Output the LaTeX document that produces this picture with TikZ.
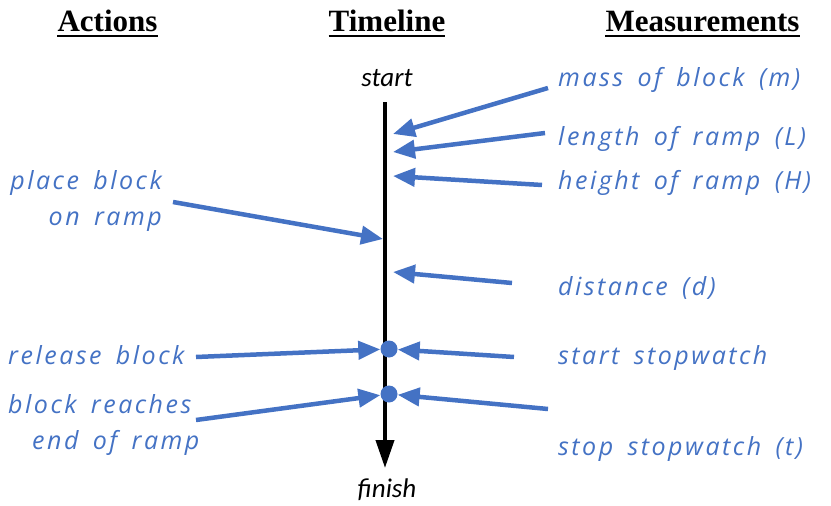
\documentclass[tikz,border=0pt]{standalone}
\usepackage{fontspec}
\usetikzlibrary{arrows.meta}
\setmainfont{Liberation Serif}
\newfontfamily\handfont[LetterSpace=10,WordSpace=1.6]{Open Sans}
\newfontfamily\tickfont{Carlito}
\definecolor{accent}{HTML}{4472C4}
\tikzset{
  header/.style={font=\fontsize{31}{31}\selectfont\bfseries, inner sep=0pt, anchor=base},
  note/.style={font=\handfont\itshape\fontsize{25}{36}\selectfont, text=accent, inner sep=0pt},
  endlabel/.style={font=\tickfont\itshape\fontsize{27}{27}\selectfont, inner sep=0pt, anchor=base},
  pointer/.style={draw=accent, line width=4.5pt, -{Triangle[length=22pt,width=18pt]}},
  event/.style={circle, fill=accent, minimum size=17pt, inner sep=0pt},
}
\begin{document}
\begin{tikzpicture}[x=1pt, y=-1pt]
\useasboundingbox (0,0) rectangle (831,506);
% column headers
\node[header] (hA) at (107.5,31) {Actions};
\node[header] (hT) at (387,31) {Timeline};
\node[header] (hM) at (702.5,31) {Measurements};
\foreach \h in {hA,hT,hM}
  \draw[line width=2.6pt] ([yshift=-5pt]\h.base west) -- ([yshift=-5pt]\h.base east);
% timeline
\node[endlabel] (start) at (387,86) {start};
\node[endlabel] (finish) at (387,497) {finish};
\coordinate (top) at (385,102);
\coordinate (bottom) at (385,468);
\draw[line width=4pt, -{Triangle[length=28pt,width=18pt]}] (top) -- (bottom);
\node[event] (e1) at (389,349) {};
\node[event] (e2) at (389,394) {};
% measurements
\node[note, anchor=base west] (m1) at (558,86) {mass of block (m)};
\node[note, anchor=base west] (m2) at (558,145) {length of ramp (L)};
\node[note, anchor=base west] (m3) at (558,189) {height of ramp (H)};
\node[note, anchor=base west] (m4) at (558,295) {distance (d)};
\node[note, anchor=base west] (m5) at (558,364) {start stopwatch};
\node[note, anchor=base west] (m6) at (558,455) {stop stopwatch (t)};
% actions
\node[note, anchor=north east, align=right] (a1) at (162,170) {place block\\on ramp};
\node[note, anchor=base west] (a2) at (8,364) {release block};
\node[note, anchor=north west, align=left] (a3) at (8,394) {block reaches\\\hspace*{24pt}end of ramp};
% arrow tails and tips
\coordinate (t1) at (548,88);   \coordinate (p1) at (393,134);
\coordinate (t2) at (545,133);  \coordinate (p2) at (393,152);
\coordinate (t3) at (542,185);  \coordinate (p3) at (393,176);
\coordinate (t4) at (512,283);  \coordinate (p4) at (393,272);
\coordinate (t5) at (514,357);
\coordinate (t6) at (548,409);
\coordinate (t7) at (173,202);  \coordinate (p7) at (383,239);
\coordinate (t8) at (196,357);
\coordinate (t9) at (196,420);
\draw[pointer] (t1) -- (p1);
\draw[pointer] (t2) -- (p2);
\draw[pointer] (t3) -- (p3);
\draw[pointer] (t4) -- (p4);
\draw[pointer] (t5) -- (e1);
\draw[pointer] (t6) -- (e2);
\draw[pointer] (t7) -- (p7);
\draw[pointer] (t8) -- (e1);
\draw[pointer] (t9) -- (e2);
\end{tikzpicture}
\end{document}
